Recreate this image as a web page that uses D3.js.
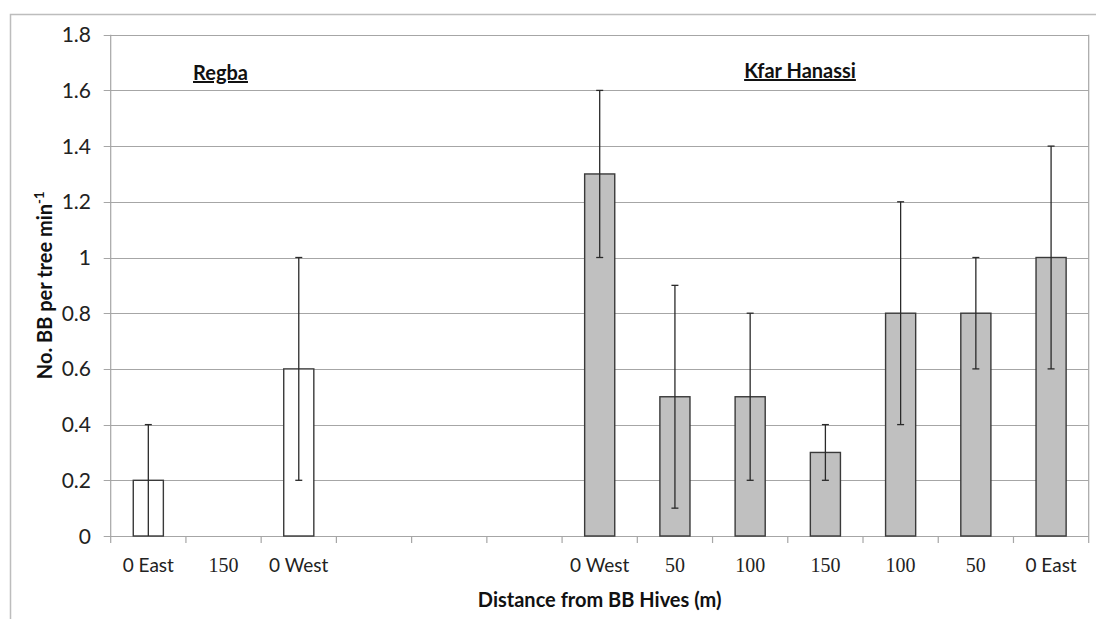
<!DOCTYPE html>
<html><head><meta charset="utf-8">
<script src="https://cdn.jsdelivr.net/npm/d3@7"></script>
<style>body{margin:0;background:#fff}</style>
</head><body>
<svg id="c" width="1096" height="619"></svg>
<script>
const categories = ["0 East","150","0 West","","","","0 West","50","100","150","100","50","0 East"];
const catKeys = categories.map((c,i)=>"c"+i);
const values = [0.2, 0, 0.6, null, null, null, 1.3, 0.5, 0.5, 0.3, 0.8, 0.8, 1.0];
const errors = [0.2, null, 0.4, null, null, null, 0.3, 0.4, 0.3, 0.1, 0.4, 0.2, 0.4];
const site = ["Regba","Regba","Regba","","","","Kfar Hanassi","Kfar Hanassi","Kfar Hanassi","Kfar Hanassi","Kfar Hanassi","Kfar Hanassi","Kfar Hanassi"];
const yTicks = [0,0.2,0.4,0.6,0.8,1,1.2,1.4,1.6,1.8];
const siteLabels = ["Regba","Kfar Hanassi"];

const svg = d3.select("#c");
const L=110.7, R=1088.7, T=34.7, B=536;
const SANS = "Lato, 'Open Sans', sans-serif";
svg.append("rect").attr("x",10.5).attr("y",14.5).attr("width",1100).attr("height",700)
  .attr("fill","none").attr("stroke","#bdbdbd").attr("stroke-width",1.5);

const x = d3.scaleBand().domain(catKeys).range([L,R]).paddingInner(0.6).paddingOuter(0.3);
const xb = d3.scaleBand().domain(catKeys).range([L,R]);
const y = d3.scaleLinear().domain([0,1.8]).range([B,T]);

// gridlines
svg.append("g").selectAll("line").data(yTicks).join("line")
  .attr("x1",L-7).attr("x2",R).attr("y1",d=>Math.round(y(d))+0.5).attr("y2",d=>Math.round(y(d))+0.5)
  .attr("stroke","#a6a6a6").attr("stroke-width",1.2);
svg.append("line").attr("x1",L).attr("x2",L).attr("y1",T).attr("y2",B+7).attr("stroke","#a6a6a6").attr("stroke-width",1.2);
svg.append("line").attr("x1",R).attr("x2",R).attr("y1",T).attr("y2",B+7).attr("stroke","#a6a6a6").attr("stroke-width",1.2);
svg.append("g").selectAll("line").data(catKeys.slice(1)).join("line")
  .attr("x1",d=>xb(d)).attr("x2",d=>xb(d)).attr("y1",B).attr("y2",B+7)
  .attr("stroke","#a6a6a6").attr("stroke-width",1.2);

// y labels
svg.append("g").selectAll("text").data(yTicks).join("text")
  .attr("x",91).attr("y",d=>y(d)).attr("dy","0.36em").attr("text-anchor","end")
  .attr("font-family",SANS).attr("font-size",21).attr("fill","#222")
  .text(d=>d3.format("")(d));

// bars
const idx = d3.range(categories.length).filter(i=>values[i]!=null && values[i]>0);
svg.append("g").selectAll("rect").data(idx).join("rect")
  .attr("x",i=>x(catKeys[i])).attr("width",x.bandwidth())
  .attr("y",i=>y(values[i])).attr("height",i=>B-y(values[i]))
  .attr("fill",i=>site[i]==="Regba"?"#ffffff":"#c0c0c0")
  .attr("stroke","#3a3a3a").attr("stroke-width",1.4);

// error bars
const eidx = d3.range(categories.length).filter(i=>errors[i]!=null);
const eg = svg.append("g").attr("stroke","#2a2a2a").attr("stroke-width",1.3);
eidx.forEach(i=>{
  const cx = x(catKeys[i])+x.bandwidth()/2;
  const lo = Math.max(0, values[i]-errors[i]), hi = values[i]+errors[i];
  eg.append("line").attr("x1",cx).attr("x2",cx).attr("y1",y(lo)).attr("y2",y(hi));
  eg.append("line").attr("x1",cx-3.5).attr("x2",cx+3.5).attr("y1",y(hi)).attr("y2",y(hi));
  if (values[i]-errors[i] > 0.001)
    eg.append("line").attr("x1",cx-3.5).attr("x2",cx+3.5).attr("y1",y(lo)).attr("y2",y(lo));
});

// category labels
svg.append("g").selectAll("text").data(d3.range(categories.length)).join("text")
  .attr("x",i=>xb(catKeys[i])+xb.bandwidth()/2).attr("y",572).attr("text-anchor","middle")
  .attr("font-family",i=>/^\d+$/.test(categories[i])?"'Liberation Serif', serif":SANS)
  .attr("font-size",i=>/^\d+$/.test(categories[i])?20:19).attr("fill","#222")
  .text(i=>categories[i]);

// site labels
const sitePos = [[220.5,80],[800,78]];
siteLabels.forEach((s,k)=>{
  svg.append("text").attr("x",sitePos[k][0]).attr("y",sitePos[k][1]).attr("text-anchor","middle")
    .attr("font-family",SANS).attr("font-weight","bold").attr("font-size",20)
    .attr("text-decoration","underline").attr("fill","#111").text(s);
});

// axis titles
svg.append("text").attr("x",(L+R)/2).attr("y",607).attr("text-anchor","middle")
  .attr("font-family",SANS).attr("font-weight","bold").attr("font-size",20)
  .attr("fill","#111").text("Distance from BB Hives (m)");
const yt = svg.append("text").attr("transform",`translate(52,${(T+B)/2}) rotate(-90)`).attr("text-anchor","middle")
  .attr("font-family",SANS).attr("font-weight","bold").attr("font-size",20).attr("fill","#111");
yt.append("tspan").text("No. BB per tree min");
yt.append("tspan").attr("dy",-8).attr("font-size",13).text("-1");
</script>
</body></html>
